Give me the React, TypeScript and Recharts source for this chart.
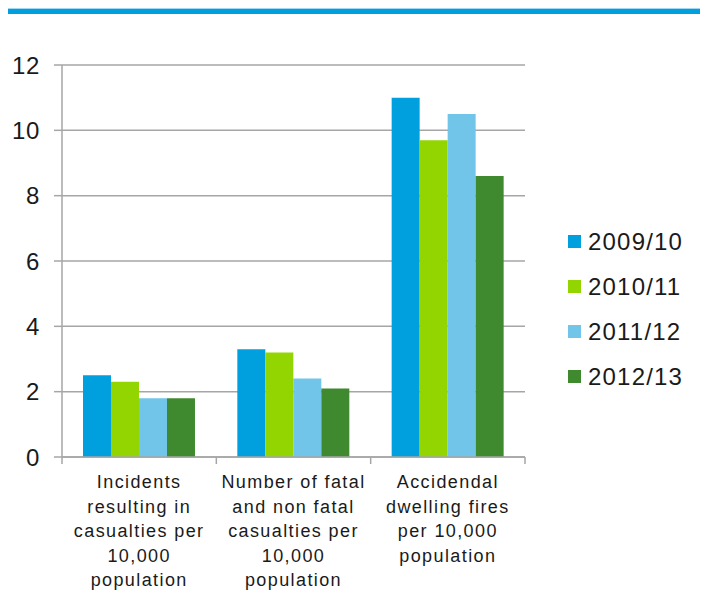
import { BarChart, Bar, XAxis, YAxis, CartesianGrid, Legend } from "recharts";

const categories = [
  "Incidents resulting in casualties per 10,000 population",
  "Number of fatal and non fatal casualties per 10,000 population",
  "Accidendal dwelling fires per 10,000 population",
];

// how the category labels wrap in the original
const categoryLines = [
  ["Incidents", "resulting in", "casualties per", "10,000", "population"],
  ["Number of fatal", "and non fatal", "casualties per", "10,000", "population"],
  ["Accidendal", "dwelling fires", "per 10,000", "population"],
];

const y2009 = [2.5, 3.3, 11.0];
const y2010 = [2.3, 3.2, 9.7];
const y2011 = [1.8, 2.4, 10.5];
const y2012 = [1.8, 2.1, 8.6];

const yTicks = [0, 2, 4, 6, 8, 10, 12];

const series = [
  { key: "y2009", label: "2009/10", color: "#00A0DF" },
  { key: "y2010", label: "2010/11", color: "#93D500" },
  { key: "y2011", label: "2011/12", color: "#71C5E8" },
  { key: "y2012", label: "2012/13", color: "#3F8A2F" },
];

const data = categories.map((name, i) => ({
  name,
  y2009: y2009[i],
  y2010: y2010[i],
  y2011: y2011[i],
  y2012: y2012[i],
}));

const FONT = '"Liberation Sans", Arial, sans-serif';
const AXIS = "#A6A6A6";

function CategoryTick(props: any) {
  const { x, y, index, width, visibleTicksCount, payload } = props;
  const band = width / visibleTicksCount;
  const lines = categoryLines[index] ?? [String(payload.value)];
  const left = x - band / 2;
  const right = x + band / 2;
  return (
    <g>
      <line x1={left} y1={y} x2={left} y2={y + 7} stroke={AXIS} strokeWidth={1.5} />
      {index === visibleTicksCount - 1 && (
        <line x1={right} y1={y} x2={right} y2={y + 7} stroke={AXIS} strokeWidth={1.5} />
      )}
      <text
        x={x}
        y={y}
        textAnchor="middle"
        fill="#1a1a1a"
        fontFamily={FONT}
        fontSize={18}
        letterSpacing={1.4}
      >
        {lines.map((line, i) => (
          <tspan key={i} x={x} y={y + 31 + i * 24.5}>
            {line}
          </tspan>
        ))}
      </text>
    </g>
  );
}

function LegendBox(props: any) {
  const payload = props.payload ?? [];
  return (
    <div style={{ fontFamily: FONT }}>
      {payload.map((p: any) => (
        <div
          key={p.value}
          style={{ display: "flex", alignItems: "center", height: 45 }}
        >
          <span
            style={{
              display: "inline-block",
              width: 13,
              height: 13,
              background: p.color,
              marginRight: 7,
            }}
          />
          <span style={{ fontSize: 24, letterSpacing: 1.2, color: "#1a1a1a" }}>
            {p.value}
          </span>
        </div>
      ))}
    </div>
  );
}

export default function App() {
  return (
    <div style={{ position: "relative", width: 700, height: 595, background: "#fff" }}>
      <div
        style={{
          position: "absolute",
          left: -8,
          top: 0,
          width: 716,
          height: 6,
          background: "#00A0DF",
          borderTop: "1px solid #9fd8f2",
          boxSizing: "border-box",
        }}
      />
      <div
        style={{
          position: "absolute",
          left: 698,
          top: 6,
          width: 1,
          height: 589,
          background: "#cfe9f6",
        }}
      />
      <BarChart
        width={700}
        height={595}
        data={data}
        margin={{ top: 57, right: 183, bottom: 0, left: 0 }}
        barCategoryGap="13.6%"
        barGap={0}
      >
        <CartesianGrid vertical={false} stroke={AXIS} strokeWidth={1.5} />
        <XAxis
          dataKey="name"
          height={146}
          interval={0}
          tickSize={0}
          tickMargin={0}
          tickLine={false}
          axisLine={{ stroke: AXIS, strokeWidth: 1.5 }}
          tick={<CategoryTick />}
        />
        <YAxis
          width={54}
          domain={[0, 12]}
          ticks={yTicks}
          interval={0}
          tickSize={8}
          tickMargin={14}
          axisLine={{ stroke: AXIS, strokeWidth: 1.5 }}
          tickLine={{ stroke: AXIS, strokeWidth: 1.5 }}
          tick={{ fill: "#1a1a1a", fontSize: 24, fontFamily: FONT, letterSpacing: 0.6 }}
        />
        <Legend
          layout="vertical"
          align="center"
          verticalAlign="middle"
          content={<LegendBox />}
          wrapperStyle={{ position: "absolute", left: 560, top: 211, width: 140 }}
        />
        {series.map((s) => (
          <Bar
            key={s.key}
            dataKey={s.key}
            name={s.label}
            fill={s.color}
            isAnimationActive={false}
          />
        ))}
      </BarChart>
    </div>
  );
}
